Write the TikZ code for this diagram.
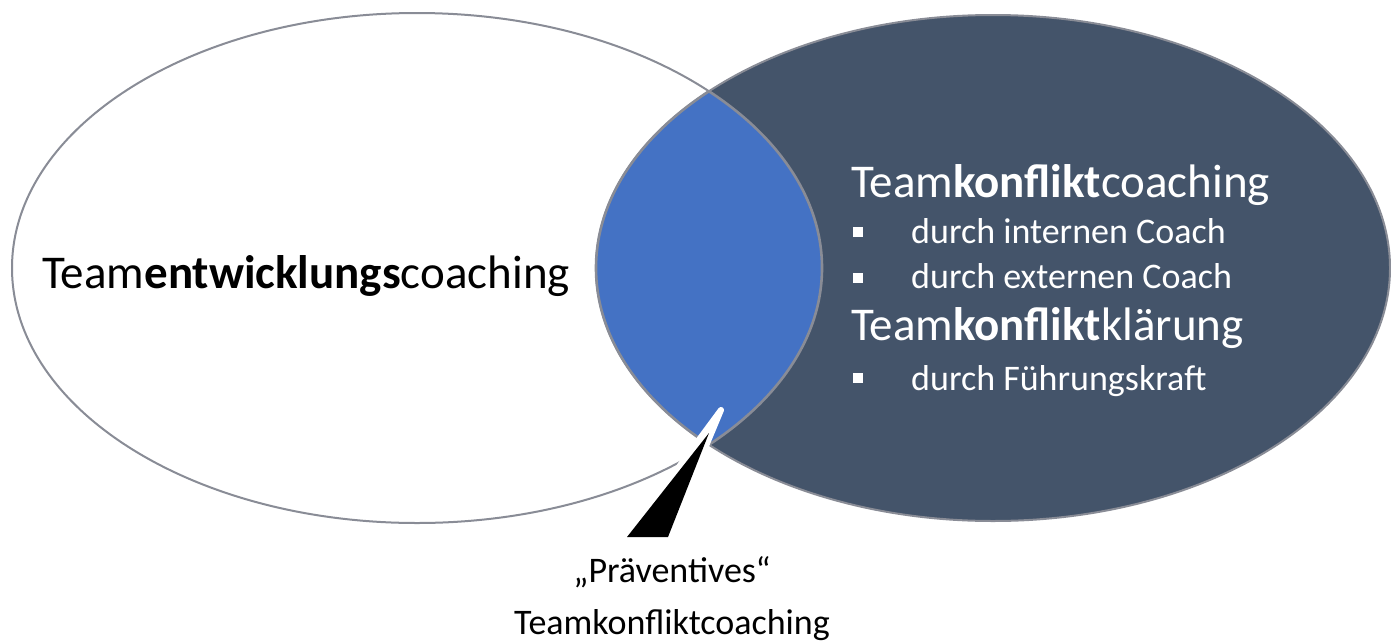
\documentclass[tikz,border=0pt]{standalone}
\usepackage{fontspec}
\setmainfont{Carlito}
\definecolor{slate}{HTML}{44546A}
\definecolor{lensblue}{HTML}{4472C4}
\definecolor{rimgray}{HTML}{898C96}
\newcommand{\DrawLeftSet}[1]{
    \path[#1] (417,268) ellipse [x radius=405, y radius=255];
}
\newcommand{\DrawRightSet}[1]{
    \path[#1] (993,268) ellipse [x radius=397, y radius=253];
}
\begin{document}
\begin{tikzpicture}[x=1pt, y=-1pt,
        rim/.style={draw=rimgray, line width=2pt},
        lensrim/.style={draw=rimgray, line width=2.6pt},
        big/.style={font=\fontsize{47}{56}\selectfont, inner sep=0pt},
        small/.style={font=\fontsize{36}{52}\selectfont, inner sep=0pt},
        bullet/.style={fill=white, minimum size=10pt, inner sep=0pt}
    ]
  \useasboundingbox (0,0) rectangle (1391,643);
  %%% The two sets
  \DrawLeftSet{fill=white, rim}
  \DrawRightSet{fill=slate, rim}
  % Overlap of both
  \begin{scope}
    \DrawLeftSet{clip}
    \DrawRightSet{fill=lensblue, lensrim}
  \end{scope}
  \begin{scope}
    \DrawRightSet{clip}
    \DrawLeftSet{lensrim}
  \end{scope}

  %%% Texts
  \node[big, anchor=base west] (develop) at (42,288) {Team\textbf{entwicklungs}coaching};
  \node[big, anchor=base west, text=white] (coaching) at (851,197) {Team\textbf{konflikt}coaching};
  \node[small, anchor=base west, text=white] (internal) at (911,243) {durch internen Coach};
  \node[small, anchor=base west, text=white] (external) at (911,288) {durch externen Coach};
  \node[big, anchor=base west, text=white] (clearing) at (851,340) {Team\textbf{konflikt}klärung};
  \node[small, anchor=base west, text=white] (leader) at (911,390) {durch Führungskraft};
  % Bullets
  \foreach \i / \y in {1/232, 2/277.5, 3/378} { \node[bullet] (dot\i) at (858,\y) {}; }

  %%% Callout
  \filldraw[white, line width=6pt, line join=round] (627,537) -- (668,537) -- (721,410) -- cycle;
  \fill[black] (627,537) -- (668,537) -- (709,433) -- cycle;
  \node[small, align=center, anchor=base] (prevent) at (672,634) {„Präventives“\\Teamkonfliktcoaching};
\end{tikzpicture}
\end{document}
